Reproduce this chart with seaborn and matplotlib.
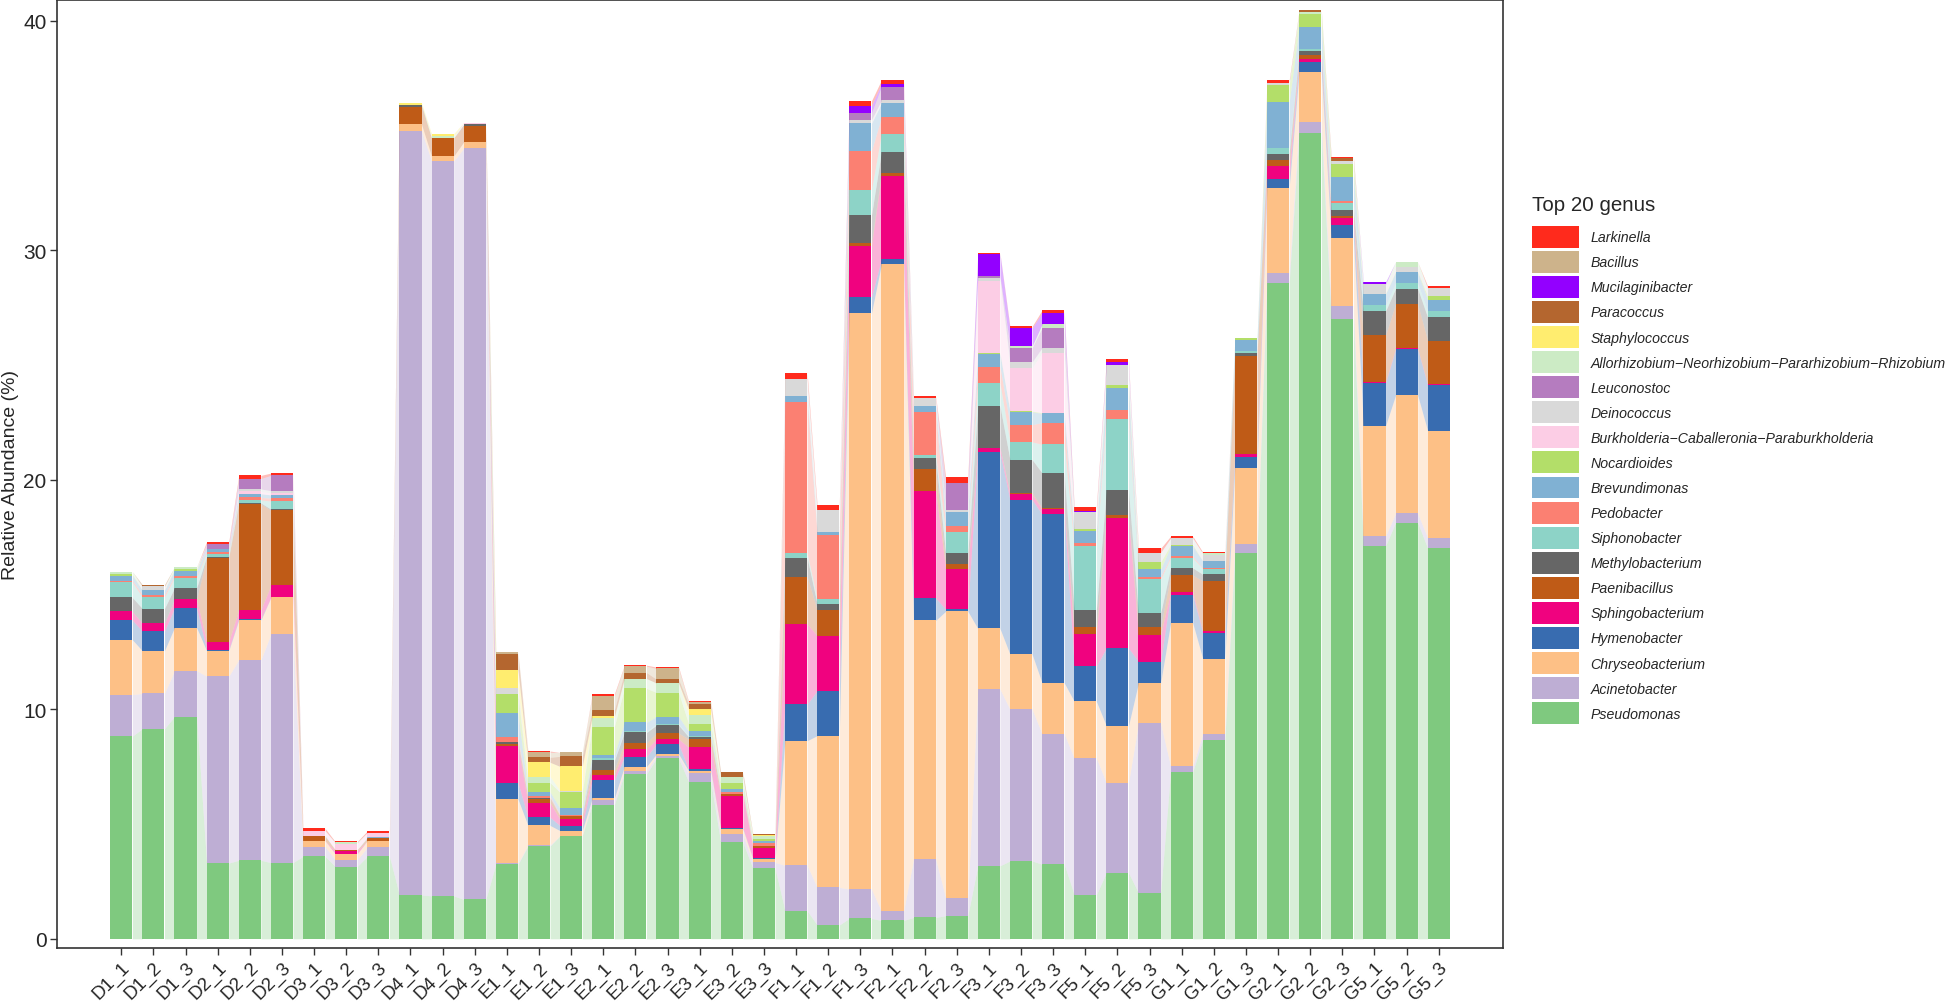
import numpy as np
import pandas as pd
import matplotlib
matplotlib.use("Agg")
import matplotlib.pyplot as plt
from matplotlib.patches import Patch
import seaborn as sns

samples = ["D1_1", "D1_2", "D1_3", "D2_1", "D2_2", "D2_3", "D3_1", "D3_2", "D3_3",
           "D4_1", "D4_2", "D4_3", "E1_1", "E1_2", "E1_3", "E2_1", "E2_2", "E2_3",
           "E3_1", "E3_2", "E3_3", "F1_1", "F1_2", "F1_3", "F2_1", "F2_2", "F2_3",
           "F3_1", "F3_2", "F3_3", "F5_1", "F5_2", "F5_3", "G1_1", "G1_2", "G1_3",
           "G2_1", "G2_2", "G2_3", "G5_1", "G5_2", "G5_3"]

# legend order (top of the stack first)
genus_order = ["Larkinella", "Bacillus", "Mucilaginibacter", "Paracoccus", "Staphylococcus",
               "Allorhizobium\u2212Neorhizobium\u2212Pararhizobium\u2212Rhizobium", "Leuconostoc",
               "Deinococcus", "Burkholderia\u2212Caballeronia\u2212Paraburkholderia", "Nocardioides",
               "Brevundimonas", "Pedobacter", "Siphonobacter", "Methylobacterium", "Paenibacillus",
               "Sphingobacterium", "Hymenobacter", "Chryseobacterium", "Acinetobacter", "Pseudomonas"]

genus_colors = ["#FF2A1C", "#CDB38B", "#9300FF", "#B4662F", "#FFED6F",
                "#CCEBC5", "#B57CBF", "#D9D9D9", "#FCCDE5", "#B3DE69",
                "#80B1D3", "#FB8072", "#8DD3C7", "#666666", "#BF5B17",
                "#F0027F", "#386CB0", "#FDC086", "#BEAED4", "#7FC97F"]

# relative abundance (%) per sample
pseudomonas = [8.83, 9.15, 9.68, 3.3, 3.42, 3.32, 3.59, 3.15, 3.59, 1.91, 1.87, 1.72, 3.24, 4.04, 4.49,
               5.84, 7.18, 7.86, 6.84, 4.2, 3.07, 1.22, 0.6, 0.89, 0.8, 0.93, 1.01, 3.18, 3.39, 3.25,
               1.92, 2.88, 2.0, 7.28, 8.67, 16.82, 28.59, 35.12, 27.0, 17.12, 18.13, 17.01]
acinetobacter = [1.81, 1.54, 2.0, 8.14, 8.73, 9.95, 0.42, 0.3, 0.39, 33.29, 32.01, 32.72, 0.05, 0.05, 0,
                 0.22, 0.13, 0.12, 0.38, 0.36, 0.26, 1.98, 1.64, 1.28, 0.4, 2.54, 0.78, 7.7, 6.61, 5.68,
                 5.95, 3.92, 7.39, 0.24, 0.26, 0.36, 0.42, 0.47, 0.58, 0.43, 0.4, 0.46]
chryseobacterium = [2.39, 1.86, 1.88, 1.11, 1.73, 1.6, 0.25, 0.26, 0.29, 0.28, 0.22, 0.27, 2.8, 0.85, 0.22,
                    0.06, 0.19, 0.07, 0.1, 0.22, 0.15, 5.43, 6.61, 25.08, 28.19, 10.4, 12.48, 2.64, 2.4, 2.22,
                    2.48, 2.48, 1.76, 6.24, 3.28, 3.35, 3.71, 2.19, 2.93, 4.8, 5.15, 4.66]
hymenobacter = [0.85, 0.85, 0.85, 0.05, 0.06, 0, 0, 0, 0, 0, 0, 0, 0.72, 0.35, 0.22,
                0.78, 0.43, 0.43, 0.07, 0.04, 0.03, 1.59, 1.96, 0.7, 0.21, 0.98, 0.08, 7.67, 6.73, 7.35,
                1.52, 3.39, 0.93, 1.22, 1.13, 0.48, 0.4, 0.42, 0.59, 1.86, 2.01, 1.99]
sphingobacterium = [0.38, 0.35, 0.38, 0.35, 0.39, 0.53, 0, 0.13, 0, 0, 0, 0, 1.58, 0.64, 0.27,
                    0.23, 0.34, 0.22, 0.96, 1.41, 0.46, 3.5, 2.4, 2.24, 3.65, 4.67, 1.78, 0.2, 0.24, 0.22,
                    1.39, 5.66, 1.17, 0.13, 0.07, 0.1, 0.53, 0.15, 0.29, 0.06, 0.04, 0.05]
paenibacillus = [0, 0, 0, 3.65, 4.61, 3.27, 0.2, 0.05, 0.12, 0.74, 0.79, 0.72, 0.1, 0.15, 0.16,
                 0.23, 0.27, 0.26, 0.35, 0.09, 0.09, 2.06, 1.12, 0.13, 0.13, 0.96, 0.22, 0, 0.07, 0.05,
                 0.32, 0.15, 0.32, 0.73, 2.18, 4.28, 0.3, 0.16, 0.11, 2.02, 1.92, 1.89]
methylobacterium = [0.61, 0.64, 0.5, 0.05, 0.05, 0.05, 0, 0, 0, 0.1, 0, 0.05, 0.1, 0.06, 0,
                    0.41, 0.45, 0.35, 0.1, 0, 0, 0.82, 0.27, 1.2, 0.91, 0.45, 0.45, 1.83, 1.44, 1.52,
                    0.76, 1.06, 0.62, 0.32, 0.29, 0.12, 0.26, 0.17, 0.25, 1.06, 0.68, 1.01]
siphonobacter = [0.66, 0.5, 0.45, 0.13, 0.13, 0.35, 0, 0, 0, 0, 0, 0, 0, 0, 0,
                 0.09, 0.06, 0.05, 0.05, 0, 0, 0.19, 0.21, 1.09, 0.78, 0.14, 0.93, 0.99, 0.77, 1.25,
                 2.76, 3.09, 1.48, 0.43, 0.25, 0.1, 0.24, 0.1, 0.3, 0.25, 0.23, 0.29]
pedobacter = [0.08, 0.11, 0.06, 0.07, 0.11, 0.13, 0, 0, 0, 0, 0, 0, 0.2, 0.07, 0.05,
              0, 0, 0, 0, 0.06, 0.1, 6.61, 2.8, 1.71, 0.72, 1.86, 0.27, 0.72, 0.75, 0.95,
              0.15, 0.39, 0.11, 0.07, 0.03, 0, 0, 0, 0.08, 0, 0, 0]
brevundimonas = [0.21, 0.19, 0.24, 0.14, 0.16, 0.14, 0.04, 0, 0.04, 0, 0, 0, 1.04, 0.19, 0.27,
                 0.14, 0.38, 0.32, 0.19, 0.14, 0.1, 0.24, 0.13, 1.2, 0.61, 0.3, 0.59, 0.56, 0.56, 0.4,
                 0.5, 0.97, 0.32, 0.44, 0.3, 0.46, 2.0, 0.94, 1.07, 0.48, 0.47, 0.48]
nocardioides = [0.06, 0, 0.06, 0, 0, 0, 0, 0, 0, 0, 0, 0, 0.83, 0.4, 0.7,
                1.24, 1.48, 1.05, 0.32, 0.27, 0.1, 0, 0, 0, 0, 0, 0, 0.03, 0.03, 0.03,
                0.1, 0.12, 0.31, 0.07, 0, 0.09, 0.75, 0.56, 0.55, 0.03, 0.04, 0.15]
burkholderia = [0, 0, 0, 0, 0.1, 0.08, 0.21, 0.26, 0.2, 0, 0, 0.08, 0, 0, 0,
                0, 0, 0, 0, 0, 0, 0, 0, 0, 0, 0, 0, 3.14, 1.89, 2.62,
                0, 0, 0, 0, 0, 0, 0, 0, 0, 0, 0, 0]
deinococcus = [0, 0.16, 0, 0, 0.11, 0.1, 0, 0, 0, 0, 0, 0, 0.27, 0, 0.07,
               0, 0, 0, 0, 0, 0, 0.75, 0.94, 0.16, 0.13, 0.32, 0.1, 0.15, 0.25, 0.21,
               0.74, 0.87, 0.42, 0.29, 0.28, 0, 0.1, 0, 0.15, 0.41, 0.2, 0.35]
leuconostoc = [0, 0, 0, 0.21, 0.45, 0.67, 0, 0, 0, 0, 0, 0, 0, 0, 0,
               0, 0, 0, 0, 0, 0, 0, 0, 0.29, 0.59, 0, 1.16, 0.08, 0.62, 0.87,
               0, 0, 0, 0, 0, 0, 0, 0, 0, 0, 0, 0]
allorhizobium = [0.12, 0, 0.1, 0, 0, 0, 0, 0.05, 0, 0, 0.07, 0, 0, 0.27, 0,
                 0.39, 0.43, 0.41, 0.39, 0.24, 0.1, 0, 0, 0, 0, 0, 0, 0, 0.07, 0.15,
                 0, 0, 0, 0, 0.05, 0, 0, 0.1, 0, 0, 0.22, 0]
staphylococcus = [0, 0, 0, 0, 0, 0, 0, 0, 0, 0.1, 0.12, 0, 0.78, 0.62, 1.06,
                  0.06, 0, 0, 0.26, 0, 0.06, 0, 0, 0, 0, 0, 0, 0, 0, 0,
                  0, 0, 0, 0, 0, 0, 0, 0, 0, 0, 0, 0]
paracoccus = [0, 0.08, 0, 0, 0, 0, 0, 0, 0, 0, 0, 0, 0.7, 0.22, 0.44,
              0.28, 0.26, 0.17, 0.22, 0.22, 0.06, 0, 0, 0, 0, 0, 0, 0, 0, 0,
              0, 0, 0, 0, 0, 0, 0, 0.09, 0.1, 0, 0, 0]
mucilaginibacter = [0, 0, 0, 0, 0, 0, 0, 0, 0, 0, 0, 0, 0, 0, 0,
                    0, 0, 0, 0, 0, 0, 0, 0, 0.32, 0.13, 0, 0, 0.95, 0.79, 0.51,
                    0.03, 0.16, 0, 0, 0, 0, 0, 0, 0, 0.1, 0, 0]
bacillus = [0, 0, 0, 0, 0, 0, 0, 0, 0, 0, 0, 0, 0.1, 0.22, 0.17,
            0.63, 0.28, 0.47, 0.07, 0, 0, 0, 0, 0, 0, 0, 0, 0, 0, 0,
            0, 0, 0, 0, 0, 0, 0, 0, 0, 0, 0, 0]
larkinella = [0, 0, 0, 0.1, 0.14, 0.1, 0.1, 0.04, 0.07, 0, 0, 0, 0, 0.05, 0,
              0.07, 0.04, 0.06, 0.05, 0, 0, 0.27, 0.23, 0.21, 0.16, 0.1, 0.26, 0.04, 0.07, 0.11,
              0.2, 0.1, 0.18, 0.08, 0.06, 0, 0.1, 0, 0.07, 0, 0, 0.1]

series = [larkinella, bacillus, mucilaginibacter, paracoccus, staphylococcus, allorhizobium,
          leuconostoc, deinococcus, burkholderia, nocardioides, brevundimonas, pedobacter,
          siphonobacter, methylobacterium, paenibacillus, sphingobacterium, hymenobacter,
          chryseobacterium, acinetobacter, pseudomonas]
abund = dict(zip(genus_order, series))
palette = dict(zip(genus_order, genus_colors))

rows = []
for g in genus_order:
    for i, s in enumerate(samples):
        rows.append({"sample": s, "pos": i, "genus": g, "value": abund[g][i]})
df = pd.DataFrame(rows)

sns.set_theme(style="white")
plt.rcParams["font.family"] = ["Liberation Sans", "DejaVu Sans"]

fig = plt.figure(figsize=(19.46, 10.04), dpi=100)
ax = fig.add_axes([57 / 1946, 55 / 1004, 1446 / 1946, 948 / 1004])

bar_w = 0.69
sns.histplot(data=df, x="pos", weights="value", hue="genus", hue_order=genus_order,
             palette=palette, multiple="stack", discrete=True, shrink=bar_w,
             alpha=1, linewidth=0, legend=False, ax=ax)

# alluvial flows between neighbouring bars
stack = genus_order[::-1]
vals = np.array([abund[g] for g in stack])
tops = vals.cumsum(axis=0)
bots = tops - vals
for k, g in enumerate(stack):
    for i in range(len(samples) - 1):
        if vals[k, i] == 0 and vals[k, i + 1] == 0:
            continue
        xa, xb = i + bar_w / 2, i + 1 - bar_w / 2
        ax.fill_between([xa, xb], [bots[k, i], bots[k, i + 1]], [tops[k, i], tops[k, i + 1]],
                        color=palette[g], alpha=0.3, linewidth=0)

ax.set_xlim(-2.0, 43.0)
ax.set_ylim(-0.4, 40.9)
ax.set_xticks(range(len(samples)))
ax.set_xticklabels(samples, rotation=45, ha="right", va="top", rotation_mode="anchor", fontsize=13.5)
ax.set_yticks([0, 10, 20, 30, 40])
ax.set_yticklabels(["0", "10", "20", "30", "40"], fontsize=15)
ax.tick_params(axis="both", direction="out", length=5, width=1, color="#333333", pad=2.5,
               bottom=True, left=True)
ax.set_xlabel("")
ax.set_ylabel("Relative Abundance (%)", fontsize=14)
ax.yaxis.set_label_coords(-0.026, 0.5)
for sp in ax.spines.values():
    sp.set_color("#333333")
    sp.set_linewidth(1.2)

handles = [Patch(facecolor=palette[g], edgecolor="none", label=g) for g in genus_order]
leg = fig.legend(handles=handles, title="Top 20 genus", loc="upper left",
                 bbox_to_anchor=(1532 / 1946, 1 - 196 / 1004), frameon=False,
                 prop={"style": "italic", "size": 10.2}, title_fontsize=14.8,
                 handlelength=3.3, handleheight=2.0, labelspacing=0.225, handletextpad=0.82,
                 borderpad=0, borderaxespad=0, alignment="left")
leg._legend_box.sep = 8.5  # a bit more room under the title

fig.savefig("out.png", dpi=100)
